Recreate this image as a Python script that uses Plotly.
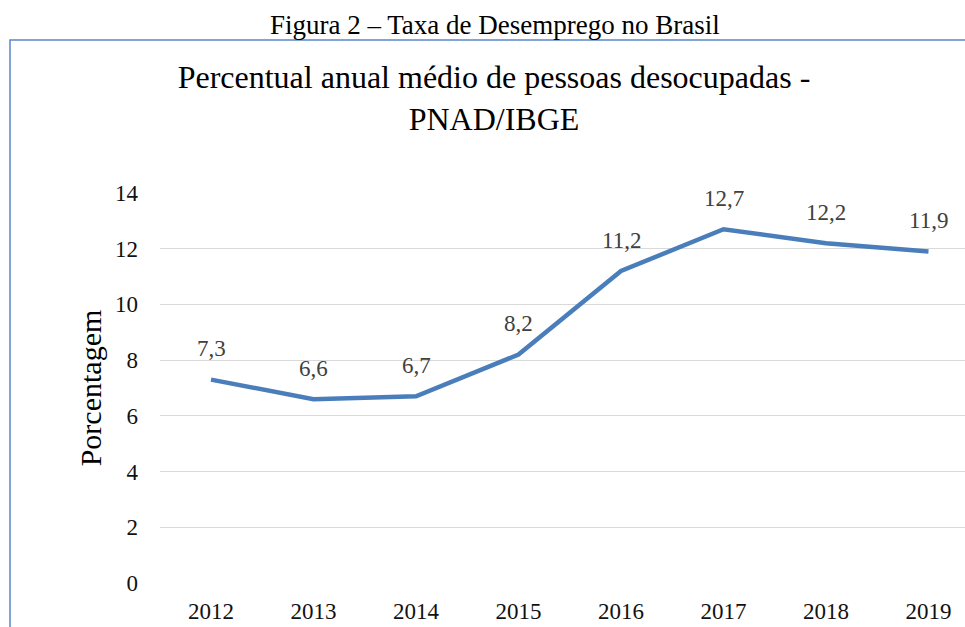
import plotly.graph_objects as go

anos = ["2012", "2013", "2014", "2015", "2016", "2017", "2018", "2019"]
taxa = [7.3, 6.6, 6.7, 8.2, 11.2, 12.7, 12.2, 11.9]
y_ticks = [0, 2, 4, 6, 8, 10, 12, 14]

caption = "Figura 2 – Taxa de Desemprego no Brasil"
titulo = "Percentual anual médio de pessoas desocupadas -<br>PNAD/IBGE"
y_titulo = "Porcentagem"

W, H = 965, 627
L, R, T, B = 160, 0, 193, 627 - 583
pw, ph = W - L - R, H - T - B

def px_x(p):  # page px -> paper
    return (p - L) / pw

def px_y(p):
    return (H - B - p) / ph

STEP = 102.5
FIRST = 211
x_range = [(L - FIRST) / STEP, (W - FIRST) / STEP]

FONT = "Liberation Serif, Times New Roman, serif"

fig = go.Figure()
fig.add_trace(go.Scatter(
    x=anos, y=taxa, mode="lines",
    line=dict(color="#4A7EBB", width=4.5),
    hoverinfo="skip", showlegend=False,
))

for i, v in enumerate(taxa):
    fig.add_annotation(
        x=i, y=v, text=f"{v:.1f}".replace(".", ","), showarrow=False,
        yshift=31, font=dict(family=FONT, size=23, color="#404040"),
    )

fig.add_annotation(
    xref="paper", yref="paper", x=px_x(495), y=px_y(25),
    text=caption, showarrow=False, xanchor="center", yanchor="middle",
    font=dict(family=FONT, size=27, color="#000000"),
)

fig.add_shape(
    type="rect", xref="paper", yref="paper",
    x0=px_x(10), x1=px_x(1010), y0=px_y(700), y1=px_y(40),
    line=dict(color="#5B87C9", width=1.5), fillcolor="rgba(0,0,0,0)",
)

fig.update_layout(
    width=W, height=H,
    margin=dict(l=L, r=R, t=T, b=B),
    paper_bgcolor="white", plot_bgcolor="white",
    title=dict(
        text=titulo, x=494 / W, xanchor="center", xref="container",
        y=1 - 88 / H, yanchor="top", yref="container",
        font=dict(family=FONT, size=32, color="#000000"),
    ),
    font=dict(family=FONT, color="#111111"),
    xaxis=dict(
        type="category", range=x_range,
        showgrid=False, showline=False, zeroline=False,
        tickfont=dict(family=FONT, size=23, color="#111111"),
        ticks="", ticklabelstandoff=12,
    ),
    yaxis=dict(
        range=[0, 14], tickvals=y_ticks,
        showgrid=True, gridcolor="#D9D9D9", gridwidth=1.2,
        zeroline=False, showline=False,
        tickfont=dict(family=FONT, size=23, color="#111111"),
        ticks="", ticklabelstandoff=21,
        title=dict(text=y_titulo, font=dict(family=FONT, size=30, color="#000000"), standoff=4),
    ),
)

fig.write_html(
    "out.html",
    config={"displayModeBar": False},
    post_script="document.body.style.margin='0';document.documentElement.style.overflow='hidden';document.body.style.overflow='hidden';",
)
